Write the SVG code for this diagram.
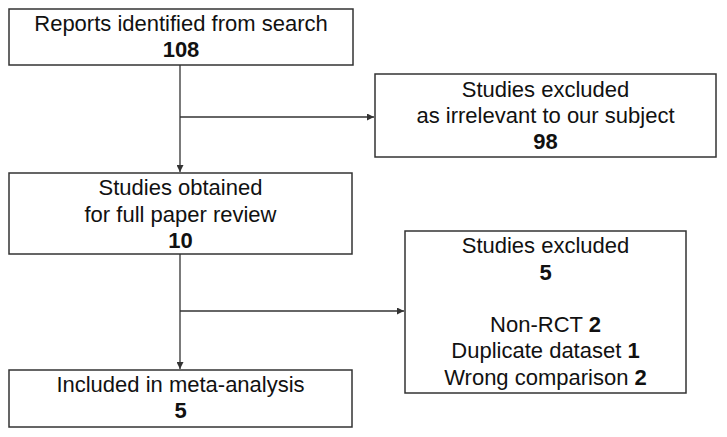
<svg xmlns="http://www.w3.org/2000/svg" width="727" height="437" viewBox="0 0 727 437">
<style>
rect{fill:#fff;stroke:#333;stroke-width:1.5}
text{font-family:"Liberation Sans",Arial,sans-serif;font-size:22px;fill:#111;text-anchor:middle}
.b{font-weight:bold}
.c{fill:none;stroke:#333;stroke-width:1.3}
</style>
<defs>
<marker id="ah" viewBox="0 0 10 10" refX="10" refY="5" markerWidth="7" markerHeight="7" markerUnits="userSpaceOnUse" orient="auto">
<path d="M0,0 L10,5 L0,10 z" fill="#333"/>
</marker>
</defs>
<rect x="0" y="0" width="727" height="437" style="fill:#fff;stroke:none"/>
<g id="connectors">
<path class="c" d="M180,65 V172" marker-end="url(#ah)"/>
<path class="c" d="M180,117 H374" marker-end="url(#ah)"/>
<path class="c" d="M180,254 V369" marker-end="url(#ah)"/>
<path class="c" d="M180,311 H404" marker-end="url(#ah)"/>
</g>
<g id="n1">
<rect x="9" y="9" width="344" height="56"/>
<text x="181" y="31">Reports identified from search</text>
<text x="181" y="57" class="b">108</text>
</g>
<g id="n2">
<rect x="375" y="74" width="341" height="83"/>
<text x="545.5" y="97">Studies excluded</text>
<text x="545.5" y="123">as irrelevant to our subject</text>
<text x="545.5" y="149" class="b">98</text>
</g>
<g id="n3">
<rect x="9" y="173" width="343" height="81"/>
<text x="180.5" y="195">Studies obtained</text>
<text x="180.5" y="222">for full paper review</text>
<text x="180.5" y="248" class="b">10</text>
</g>
<g id="n4">
<rect x="9" y="370" width="343" height="57"/>
<text x="180.5" y="392">Included in meta-analysis</text>
<text x="180.5" y="418" class="b">5</text>
</g>
<g id="n5">
<rect x="405" y="231" width="281" height="162"/>
<text x="545.5" y="253">Studies excluded</text>
<text x="545.5" y="280" class="b">5</text>
<text x="545.5" y="332">Non-RCT <tspan class="b">2</tspan></text>
<text x="545.5" y="358">Duplicate dataset <tspan class="b">1</tspan></text>
<text x="545.5" y="385">Wrong comparison <tspan class="b">2</tspan></text>
</g>
</svg>
